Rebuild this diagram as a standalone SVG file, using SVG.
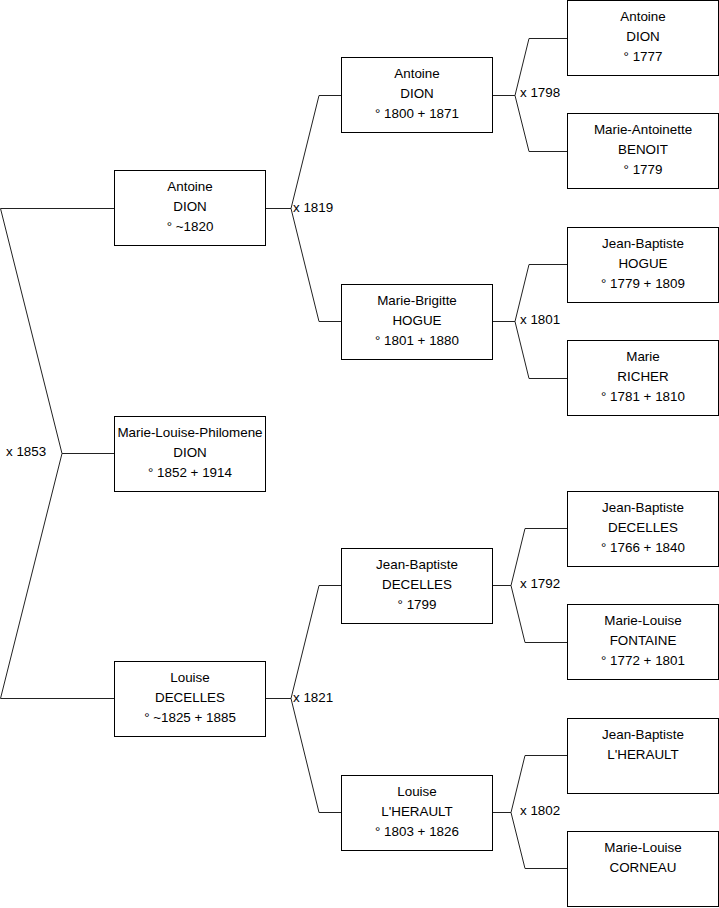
<svg xmlns="http://www.w3.org/2000/svg" width="719" height="908" viewBox="0 0 719 908">
<style>
rect{fill:#fff;stroke:#000;stroke-width:1}
text{font-family:"Liberation Sans",Arial,sans-serif;font-size:13.4px;fill:#000}
.c{text-anchor:middle}
.ln{fill:none;stroke:#222;stroke-width:1}
</style>
<rect x="0" y="0" width="719" height="908" style="stroke:none"/>
<g id="connectors">
<path class="ln" d="M114,208.5H0.5L62,453.5L0.5,698.5H114M62,453.5H114"/>
<path class="ln" d="M265,208.5H291L319,95.5H341M291,208.5L319,321.5H341"/>
<path class="ln" d="M265,698.5H291L319,585.5H341M291,698.5L319,812.5H341"/>
<path class="ln" d="M492,95.5H515L529,38.5H567M515,95.5L529,151.5H567"/>
<path class="ln" d="M492,321.5H515L529,264.5H567M515,321.5L529,378.5H567"/>
<path class="ln" d="M492,585.5H511L525,528.5H567M511,585.5L525,642.5H567"/>
<path class="ln" d="M492,812.5H511L525,755.5H567M511,812.5L525,868.5H567"/>
<text x="6" y="456">x 1853</text>
<text x="293" y="212">x 1819</text>
<text x="293" y="702">x 1821</text>
<text x="520" y="97">x 1798</text>
<text x="520" y="324">x 1801</text>
<text x="520" y="588">x 1792</text>
<text x="520" y="815">x 1802</text>
</g>
<g id="n0"><rect x="114.5" y="416.5" width="151" height="75"/><text class="c" x="190" y="437">Marie-Louise-Philomene</text><text class="c" x="190" y="457">DION</text><text class="c" x="190" y="477">° 1852 + 1914</text></g>
<g id="n1"><rect x="114.5" y="170.5" width="151" height="75"/><text class="c" x="190" y="191">Antoine</text><text class="c" x="190" y="211">DION</text><text class="c" x="190" y="231">° ~1820</text></g>
<g id="n2"><rect x="114.5" y="661.5" width="151" height="75"/><text class="c" x="190" y="682">Louise</text><text class="c" x="190" y="702">DECELLES</text><text class="c" x="190" y="722">° ~1825 + 1885</text></g>
<g id="n3"><rect x="341.5" y="57.5" width="151" height="75"/><text class="c" x="417" y="78">Antoine</text><text class="c" x="417" y="98">DION</text><text class="c" x="417" y="118">° 1800 + 1871</text></g>
<g id="n4"><rect x="341.5" y="284.5" width="151" height="75"/><text class="c" x="417" y="305">Marie-Brigitte</text><text class="c" x="417" y="325">HOGUE</text><text class="c" x="417" y="345">° 1801 + 1880</text></g>
<g id="n5"><rect x="341.5" y="548.5" width="151" height="75"/><text class="c" x="417" y="569">Jean-Baptiste</text><text class="c" x="417" y="589">DECELLES</text><text class="c" x="417" y="609">° 1799</text></g>
<g id="n6"><rect x="341.5" y="775.5" width="151" height="75"/><text class="c" x="417" y="796">Louise</text><text class="c" x="417" y="816">L'HERAULT</text><text class="c" x="417" y="836">° 1803 + 1826</text></g>
<g id="n7"><rect x="567.5" y="0.5" width="151" height="75"/><text class="c" x="643" y="21">Antoine</text><text class="c" x="643" y="41">DION</text><text class="c" x="643" y="61">° 1777</text></g>
<g id="n8"><rect x="567.5" y="113.5" width="151" height="75"/><text class="c" x="643" y="134">Marie-Antoinette</text><text class="c" x="643" y="154">BENOIT</text><text class="c" x="643" y="174">° 1779</text></g>
<g id="n9"><rect x="567.5" y="227.5" width="151" height="75"/><text class="c" x="643" y="248">Jean-Baptiste</text><text class="c" x="643" y="268">HOGUE</text><text class="c" x="643" y="288">° 1779 + 1809</text></g>
<g id="n10"><rect x="567.5" y="340.5" width="151" height="75"/><text class="c" x="643" y="361">Marie</text><text class="c" x="643" y="381">RICHER</text><text class="c" x="643" y="401">° 1781 + 1810</text></g>
<g id="n11"><rect x="567.5" y="491.5" width="151" height="75"/><text class="c" x="643" y="512">Jean-Baptiste</text><text class="c" x="643" y="532">DECELLES</text><text class="c" x="643" y="552">° 1766 + 1840</text></g>
<g id="n12"><rect x="567.5" y="604.5" width="151" height="75"/><text class="c" x="643" y="625">Marie-Louise</text><text class="c" x="643" y="645">FONTAINE</text><text class="c" x="643" y="665">° 1772 + 1801</text></g>
<g id="n13"><rect x="567.5" y="718.5" width="151" height="75"/><text class="c" x="643" y="739">Jean-Baptiste</text><text class="c" x="643" y="759">L'HERAULT</text></g>
<g id="n14"><rect x="567.5" y="831.5" width="151" height="75"/><text class="c" x="643" y="852">Marie-Louise</text><text class="c" x="643" y="872">CORNEAU</text></g>
</svg>
